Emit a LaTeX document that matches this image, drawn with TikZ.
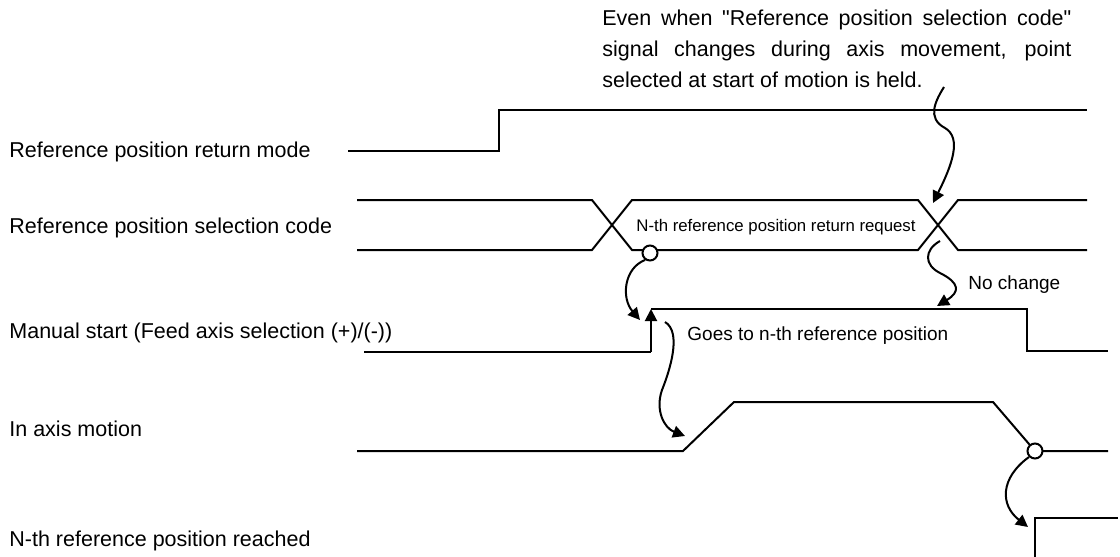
\documentclass[tikz,border=0pt]{standalone}
\usepackage{fontspec}
\setmainfont{Liberation Sans}[Ligatures=TeXOff]
\usetikzlibrary{arrows.meta}
\begin{document}
\begin{tikzpicture}[x=0.5pt,y=-0.5pt,
  sig/.style={line width=1pt, line join=miter},
  conn/.style={line width=1pt, -{Triangle[length=6pt,width=6pt]}},
  lbl/.style={anchor=west, inner sep=0pt, font=\fontsize{10.75}{13}\selectfont},
  small/.style={anchor=west, inner sep=0pt, font=\fontsize{9.5}{11}\selectfont},
  tiny/.style={anchor=west, inner sep=0pt, font=\fontsize{8.4}{10}\selectfont},
  hold/.style={circle, draw, line width=1pt, fill=white, minimum size=7.5pt, inner sep=0pt}
]
\useasboundingbox (0,0) rectangle (1120,557);

% note
\node[anchor=north west, text width=234.5pt, align=justify, inner sep=0pt,
      font=\fontsize{10.75}{15.5}\selectfont] (note) at (602,10)
  {Even when "Reference position selection code"\linebreak signal changes during axis movement, point\linebreak selected at start of motion is held.};

% labels
\node[lbl] (l1) at (9,152) {Reference position return mode};
\node[lbl] (l2) at (9,228) {Reference position selection code};
\node[lbl] (l3) at (9,333) {Manual start (Feed axis selection (+)/(-))};
\node[lbl] (l4) at (9,429) {In axis motion};
\node[lbl] (l5) at (9,541) {N-th reference position reached};

% signal 1
\draw[sig] (348,151) -- (499,151) -- (499,110) -- (1087,110);

% signal 2 (bus)
\draw[sig] (357,200) -- (592,200) -- (632,250) -- (918,250) -- (958,200) -- (1087,200);
\draw[sig] (357,250) -- (592,250) -- (632,200) -- (918,200) -- (958,250) -- (1087,250);
\node[tiny] (req) at (636,227) {N-th reference position return request};

% signal 3
\draw[sig] (364,352) -- (651,352);
\draw[conn] (651,352) -- (651,309);
\draw[sig] (651,309) -- (1027,309) -- (1027,351) -- (1108,351);
\node[small] (goes) at (687,336) {Goes to n-th reference position};
\node[small] (nochg) at (968,285) {No change};

% signal 4
\draw[sig] (357,451) -- (683,451) -- (734,402) -- (993,402) -- (1035,451) -- (1108,451);

% signal 5
\draw[sig] (1035,557) -- (1035,518) -- (1118,518);

% hold circles
\node[hold] (c1) at (650,253) {};
\node[hold] (c2) at (1035,451) {};

% connectors
\coordinate (nA) at (944,87);
\coordinate (xA) at (933,203);
\draw[conn] (nA) .. controls (936,100) and (926,118) .. (945,128)
                 .. controls (962,138) and (952,165) .. (xA);

\coordinate (xB) at (940,241);
\coordinate (tB) at (937,306);
\draw[conn] (xB) .. controls (924,250) and (924,265) .. (940,273)
                 .. controls (960,283) and (960,292) .. (tB);

\coordinate (tC) at (640,320);
\draw[conn] (c1.235) .. controls (624,268) and (621,298) .. (tC);

\coordinate (sD) at (665,322);
\coordinate (tD) at (685,436);
\draw[conn] (sD) .. controls (682,332) and (670,370) .. (662,390)
                 .. controls (655,410) and (664,428) .. (tD);

\coordinate (tE) at (1028,527);
\draw[conn] (c2.225) .. controls (1000,478) and (1000,505) .. (tE);
\end{tikzpicture}
\end{document}
